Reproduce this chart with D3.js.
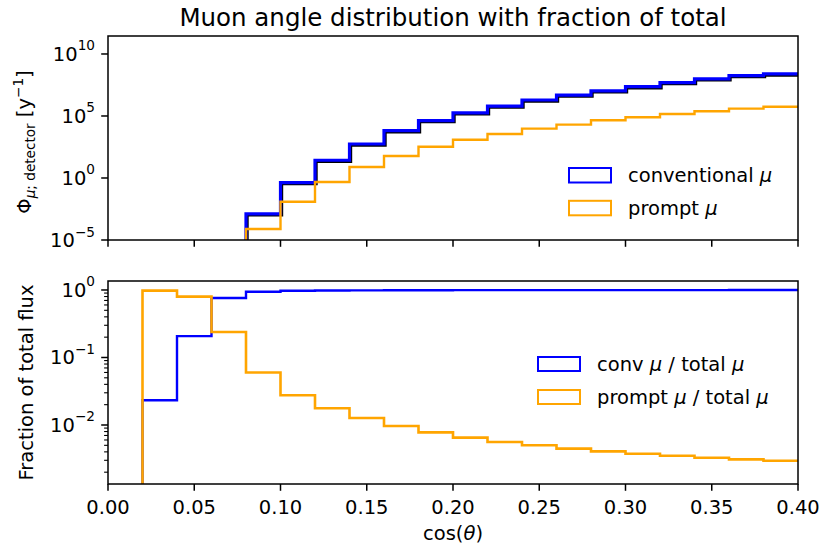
<!DOCTYPE html>
<html><head><meta charset="utf-8">
<script src="https://cdn.jsdelivr.net/npm/d3@7"></script>
<style>
body{margin:0;background:#fff}
text{font-family:"DejaVu Sans",sans-serif;fill:#000}
</style>
</head><body><svg id="c" width="822" height="550"></svg>
<script>
// ---------------- data ----------------
const title = "Muon angle distribution with fraction of total";
// top panel bins (cos theta edges)
const topEdges = [0.08,0.10,0.12,0.14,0.16,0.18,0.20,0.22,0.24,0.26,0.28,0.30,0.32,0.34,0.36,0.38,0.40];
const convFlux = [1.3e-3,0.42,27,550,6.5e3,4.2e4,1.8e5,6.3e5,1.95e6,4.9e6,1.05e7,2.3e7,4.9e7,1.0e8,1.8e8,2.45e8];
const promptFlux = [7.8e-5,1.23e-2,0.48,7.8,59,330,1.2e3,3.5e3,9.5e3,2.0e4,4.5e4,7.9e4,1.45e5,2.4e5,3.9e5,5.6e5];
// bottom panel bins
const fracEdges = [0.02,0.04,0.06,0.08,0.10,0.12,0.14,0.16,0.18,0.20,0.22,0.24,0.26,0.28,0.30,0.32,0.34,0.36,0.38,0.40];
const convFrac = [0.0233,0.207,0.761,0.94,0.972,0.982,0.987,0.990,0.992,0.9935,0.9944,0.995,0.9955,0.996,0.9962,0.9965,0.9967,0.9969,0.997];
const promptFrac = [0.977,0.796,0.239,0.060,0.0276,0.0177,0.0127,0.00966,0.00778,0.0065,0.0056,0.0050,0.00446,0.00407,0.00376,0.00351,0.00328,0.0031,0.00296];
const xTicks = [0.00,0.05,0.10,0.15,0.20,0.25,0.30,0.35,0.40];
const topYTicks = [-5,0,5,10];      // exponents
const botYTicks = [-2,-1,0];        // exponents
const topLegend = ["conventional μ","prompt μ"];
const botLegend = ["conv μ / total μ","prompt μ / total μ"];

// ---------------- layout ----------------
const BLUE="#0000ff", ORANGE="#ffa500";
const FS=19.5, TL=6.8;
const L=108, R=798;
const topP={t:36,b:240}, botP={t:281,b:484};
const svg=d3.select("#c");
const x=d3.scaleLinear().domain([0,0.4]).range([L,R]);
const yTop=d3.scaleLog().domain([1e-5,Math.pow(10,11.45)]).range([topP.b,topP.t]);
const yBot=d3.scaleLog().domain([Math.pow(10,-2.874),Math.pow(10,0.133)]).range([botP.b,botP.t]);

svg.append("text").attr("x",(L+R)/2).attr("y",26).attr("text-anchor","middle")
  .style("font-size","24.5px").text(title);

const defs=svg.append("defs");
defs.append("clipPath").attr("id","clipT").append("rect").attr("x",L).attr("y",topP.t).attr("width",R-L).attr("height",topP.b-topP.t);
defs.append("clipPath").attr("id","clipB").append("rect").attr("x",L).attr("y",botP.t).attr("width",R-L).attr("height",botP.b-botP.t);

function stepPath(edges, vals, y){
  const base=y.range()[0];
  const pts=[[x(edges[0]),base]];
  vals.forEach((v,i)=>{pts.push([x(edges[i]),y(v)]);pts.push([x(edges[i+1]),y(v)]);});
  return d3.line()(pts);
}

function supLabel(g, base, exp, xx, yy){
  const t=g.append("text").attr("x",xx).attr("y",yy).attr("text-anchor","end").style("font-size",FS+"px");
  t.append("tspan").text(base);
  t.append("tspan").attr("dy",-10.5).style("font-size",(FS*0.7)+"px").text(exp);
  return t;
}

function legendText(g, str, xx, yy){
  const t=g.append("text").attr("x",xx).attr("y",yy).style("font-size",FS+"px");
  const parts=str.split("μ");
  parts.forEach((p,j)=>{
    if(p) t.append("tspan").text(p);
    if(j<parts.length-1) t.append("tspan").style("font-style","italic").text("μ");
  });
}

// ---------- top panel ----------
const gT=svg.append("g");
const gTc=gT.append("g").attr("clip-path","url(#clipT)");
gTc.append("path").attr("d",stepPath(topEdges,convFlux,yTop)).attr("fill","none")
  .attr("stroke","#000").attr("stroke-width",3.4).attr("transform","translate(1,1)");
gTc.append("path").attr("d",stepPath(topEdges,convFlux,yTop)).attr("fill","none")
  .attr("stroke",BLUE).attr("stroke-width",3.2);
gTc.append("path").attr("d",stepPath(topEdges,promptFlux,yTop)).attr("fill","none")
  .attr("stroke",ORANGE).attr("stroke-width",2.4);

gT.append("rect").attr("x",L).attr("y",topP.t).attr("width",R-L).attr("height",topP.b-topP.t)
  .attr("fill","none").attr("stroke","#000").attr("stroke-width",1.5);
xTicks.forEach(v=>{
  gT.append("line").attr("x1",x(v)).attr("x2",x(v)).attr("y1",topP.b).attr("y2",topP.b+TL).attr("stroke","#000").attr("stroke-width",1.5);
});
topYTicks.forEach(e=>{
  const yy=yTop(Math.pow(10,e));
  gT.append("line").attr("x1",L-TL).attr("x2",L).attr("y1",yy).attr("y2",yy).attr("stroke","#000").attr("stroke-width",1.5);
  supLabel(gT,"10",e<0?"−"+Math.abs(e):String(e),L-13,yy+7);
});
// y label top
const ylT=gT.append("text").attr("transform",`translate(31,${(topP.t+topP.b)/2+4}) rotate(-90)`).attr("text-anchor","middle").style("font-size",FS+"px");
ylT.append("tspan").text("Φ");
ylT.append("tspan").attr("dy",4).style("font-size","13.6px").style("font-style","italic").text("μ");
ylT.append("tspan").style("font-size","13.6px").text("; detector");
ylT.append("tspan").attr("dy",-4).text(" [y");
ylT.append("tspan").attr("dy",-8).style("font-size","13.6px").text("−1");
ylT.append("tspan").attr("dy",8).text("]");

// legend top
[[BLUE,topLegend[0]],[ORANGE,topLegend[1]]].forEach((d,i)=>{
  const yy=168+i*32.8;
  gT.append("rect").attr("x",569).attr("y",yy).attr("width",42).attr("height",14.5).attr("fill","none").attr("stroke",d[0]).attr("stroke-width",2);
  legendText(gT,d[1],628,yy+13.7);
});

// ---------- bottom panel ----------
const gB=svg.append("g");
const gBc=gB.append("g").attr("clip-path","url(#clipB)");
gBc.append("path").attr("d",stepPath(fracEdges,convFrac,yBot)).attr("fill","none").attr("stroke",BLUE).attr("stroke-width",2.4);
gBc.append("path").attr("d",stepPath(fracEdges,promptFrac,yBot)).attr("fill","none").attr("stroke",ORANGE).attr("stroke-width",2.6);
gB.append("rect").attr("x",L).attr("y",botP.t).attr("width",R-L).attr("height",botP.b-botP.t)
  .attr("fill","none").attr("stroke","#000").attr("stroke-width",1.5);
xTicks.forEach(v=>{
  gB.append("line").attr("x1",x(v)).attr("x2",x(v)).attr("y1",botP.b).attr("y2",botP.b+TL).attr("stroke","#000").attr("stroke-width",1.5);
  gB.append("text").attr("x",x(v)).attr("y",514).attr("text-anchor","middle").style("font-size",FS+"px").text(v.toFixed(2));
});
botYTicks.forEach(e=>{
  const yy=yBot(Math.pow(10,e));
  gB.append("line").attr("x1",L-TL).attr("x2",L).attr("y1",yy).attr("y2",yy).attr("stroke","#000").attr("stroke-width",1.5);
  supLabel(gB,"10",e<0?"−"+Math.abs(e):String(e),L-13,yy+7);
  for(let m=2;m<=9;m++){
    const v=m*Math.pow(10,e-1);
    if(v<yBot.domain()[0]||v>yBot.domain()[1]) continue;
    const ym=yBot(v);
    gB.append("line").attr("x1",L-3.9).attr("x2",L).attr("y1",ym).attr("y2",ym).attr("stroke","#000").attr("stroke-width",1.1);
  }
});
gB.append("text").attr("transform",`translate(33,${(botP.t+botP.b)/2}) rotate(-90)`).attr("text-anchor","middle").style("font-size",FS+"px").text("Fraction of total flux");
const xl=gB.append("text").attr("x",(L+R)/2).attr("y",540).attr("text-anchor","middle").style("font-size",FS+"px");
xl.append("tspan").text("cos(");
xl.append("tspan").style("font-style","italic").text("θ");
xl.append("tspan").text(")");

[[BLUE,botLegend[0]],[ORANGE,botLegend[1]]].forEach((d,i)=>{
  const yy=357+i*33;
  gB.append("rect").attr("x",538).attr("y",yy).attr("width",42).attr("height",14).attr("fill","none").attr("stroke",d[0]).attr("stroke-width",2);
  legendText(gB,d[1],597,yy+13.5);
});
</script></body></html>
